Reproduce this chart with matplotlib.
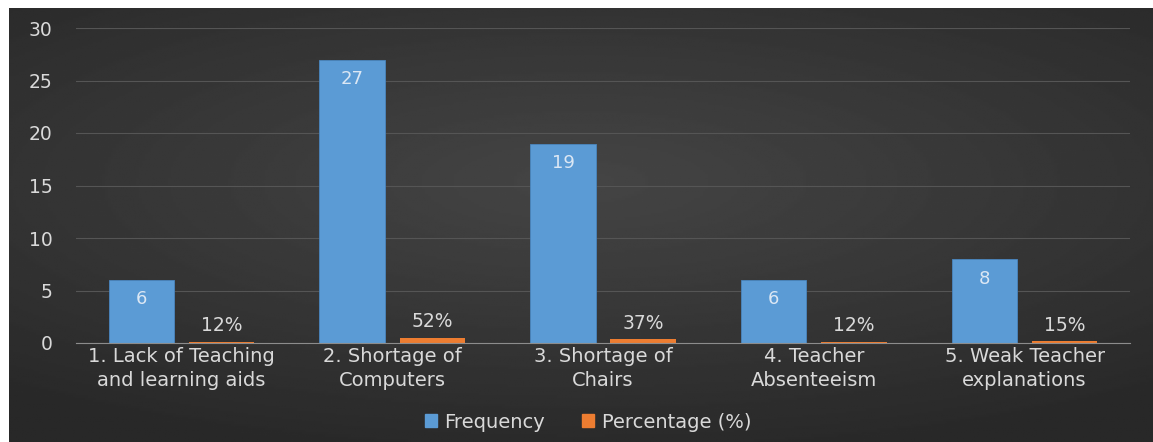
import numpy as np
import matplotlib.pyplot as plt
from matplotlib.patches import Patch

categories = ["1. Lack of Teaching\nand learning aids", "2. Shortage of\nComputers",
              "3. Shortage of\nChairs", "4. Teacher\nAbsenteeism", "5. Weak Teacher\nexplanations"]
frequency = [6, 27, 19, 6, 8]
percentage = [0.12, 0.52, 0.37, 0.12, 0.15]
pct_labels = ["12%", "52%", "37%", "12%", "15%"]

plt.rcParams["font.family"] = ["DejaVu Sans"]
text_col = "#d9d9d9"
blue = "#5b9bd5"
orange = "#ed7d31"

fig = plt.figure(figsize=(11.53, 4.42), dpi=100)
fig.patch.set_facecolor("white")

# dark radial gradient background
bg = fig.add_axes([9 / 1153, 0, 1 - 9 / 1153, 1 - 8 / 442])
yy, xx = np.mgrid[-1:1:200j, -1:1:400j]
r = np.sqrt((xx * 0.9) ** 2 + ((yy + 0.2) * 1.1) ** 2)
bg.imshow(0.27 - 0.11 * np.clip(r, 0, 1.4) / 1.4, cmap="gray", vmin=0, vmax=1,
          aspect="auto", extent=[0, 1, 0, 1])
bg.axis("off")

ax = fig.add_axes([76 / 1153, 1 - 343 / 442, (1130 - 76) / 1153, (343 - 28) / 442])
ax.patch.set_alpha(0)
x = np.arange(len(categories))
w = 0.31
off = 0.19
b1 = ax.bar(x - off, frequency, w, color=blue, edgecolor="#4a86bf", linewidth=0.6, zorder=3)
b2 = ax.bar(x + off, percentage, w, color=orange, zorder=3)

for rect, v in zip(b1, frequency):
    ax.text(rect.get_x() + rect.get_width() / 2, v - 1.0, str(v), ha="center", va="top",
            color="#dbe7f4", fontsize=13)
for rect, v, lab in zip(b2, percentage, pct_labels):
    ax.text(rect.get_x() + rect.get_width() / 2, v + 0.6, lab, ha="center", va="bottom",
            color=text_col, fontsize=13.5)

ax.set_xlim(-0.5, len(categories) - 0.5)
ax.set_ylim(0, 30)
ax.set_yticks(range(0, 31, 5))
ax.set_xticks(x)
ax.set_xticklabels(categories, color=text_col, fontsize=14, linespacing=1.35)
ax.tick_params(axis="y", colors=text_col, labelsize=13.5, length=0, pad=17)
ax.tick_params(axis="x", length=0, pad=3)
ax.grid(axis="y", color="#555555", linewidth=0.8, zorder=0)
for s in ["top", "right", "left"]:
    ax.spines[s].set_visible(False)
ax.spines["bottom"].set_color("#8c8c8c")
ax.spines["bottom"].set_zorder(4)

handles = [Patch(color=blue, label="Frequency"), Patch(color=orange, label="Percentage (%)")]
fig.legend(handles=handles, loc="center", bbox_to_anchor=(0.51, 1 - 422 / 442), ncol=2,
           frameon=False, fontsize=14, labelcolor=text_col, handlelength=0.6,
           handleheight=0.6, handletextpad=0.4, columnspacing=1.9)

fig.savefig("out.png", dpi=100, facecolor=fig.get_facecolor())
